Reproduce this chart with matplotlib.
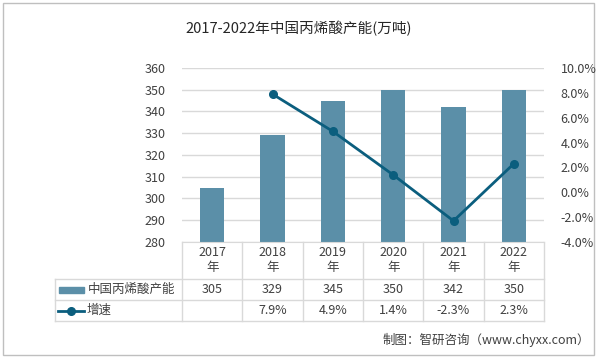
import matplotlib
matplotlib.use("Agg")
import matplotlib.pyplot as plt
import matplotlib.transforms as mtransforms
from matplotlib.patches import Rectangle
from matplotlib.lines import Line2D
import numpy as np

plt.rcParams['font.family'] = ['Noto Sans CJK SC', 'DejaVu Sans']

years = ["2017", "2018", "2019", "2020", "2021", "2022"]
capacity = [305, 329, 345, 350, 342, 350]
growth = [np.nan, 7.9, 4.9, 1.4, -2.3, 2.3]
growth_labels = ["", "7.9%", "4.9%", "1.4%", "-2.3%", "2.3%"]
series_names = ["中国丙烯酸产能", "增速"]
title = "2017-2022年中国丙烯酸产能(万吨)"
source = "制图：智研咨询（www.chyxx.com）"

bar_color = "#5B8FA8"
line_color = "#0B5E7E"
grid_color = "#D9D9D9"
text_color = "#404040"

W, H = 597, 359
fig = plt.figure(figsize=(W / 100, H / 100), dpi=100)

# overlay axes in pixel coordinates
ov = fig.add_axes([0, 0, 1, 1])
ov.set_xlim(0, W)
ov.set_ylim(H, 0)
ov.axis("off")

L, R, T, B = 182, 544, 68, 242
ax = fig.add_axes([L / W, (H - B) / H, (R - L) / W, (B - T) / H])
ax.set_zorder(2)
ax.patch.set_alpha(0)

x = np.arange(len(years))
ax.bar(x, capacity, width=0.4, color=bar_color, zorder=2)
ax.set_xlim(-0.5, len(years) - 0.5)
ax.set_ylim(280, 360)
ax.set_yticks(np.arange(280, 361, 10))
ax.yaxis.grid(True, color=grid_color, linewidth=1)
ax.set_axisbelow(True)
for s in ["top", "right", "left"]:
    ax.spines[s].set_visible(False)
ax.spines["bottom"].set_color(grid_color)
ax.set_xticks([])
ax.tick_params(axis="y", length=0, labelsize=9, labelcolor=text_color, pad=12)

ax2 = ax.twinx()
ax2.plot(x, growth, color=line_color, linewidth=2, marker="o", markersize=5.5, zorder=3)
ax2.set_ylim(-4, 10)
ax2.set_yticks(np.arange(-4, 10.1, 2))
ax2.set_yticklabels([f"{v:.1f}%" for v in np.arange(-4, 10.1, 2)])
for s in ["top", "right", "left", "bottom"]:
    ax2.spines[s].set_visible(False)
ax2.tick_params(axis="y", length=0, labelsize=9, labelcolor=text_color, pad=12)

# border
ov.add_patch(Rectangle((3, 3), 591, 352, fill=False, edgecolor="#BFBFBF", linewidth=1))

# title
ov.text(W / 2, 29, title, ha="center", va="center", fontsize=10.5, color="#262626")

# data table
blend = mtransforms.blended_transform_factory(ax.transData, ov.transData)
row_h_top, row1_bot, row2_bot = B, 279, 300
row3_bot = 321
tbl_left = 55
lc = grid_color
# horizontal lines
ov.add_line(Line2D([tbl_left, R], [row1_bot, row1_bot], color=lc, lw=1))
ov.add_line(Line2D([tbl_left, R], [row2_bot, row2_bot], color=lc, lw=1))
ov.add_line(Line2D([tbl_left, R], [row3_bot, row3_bot], color=lc, lw=1))
# vertical lines
ov.add_line(Line2D([tbl_left, tbl_left], [row1_bot, row3_bot], color=lc, lw=1))
for i in range(len(years) + 1):
    xb = i - 0.5
    ax_line = Line2D([xb, xb], [B, row3_bot], color=lc, lw=1, transform=blend)
    ov.add_line(ax_line)

for i, yr in enumerate(years):
    ov.text(i, 252, yr, transform=blend, ha="center", va="center", fontsize=9, color=text_color)
    ov.text(i, 268, "年", transform=blend, ha="center", va="center", fontsize=9, color=text_color)
    ov.text(i, 289.5, str(capacity[i]), transform=blend, ha="center", va="center", fontsize=9, color=text_color)
    ov.text(i, 310.5, growth_labels[i], transform=blend, ha="center", va="center", fontsize=9, color=text_color)

# legend keys
ov.add_patch(Rectangle((59, 286.5), 25, 6, color=bar_color))
ov.text(88, 289.5, series_names[0], ha="left", va="center", fontsize=9, color=text_color)
ov.add_line(Line2D([58, 84], [310.5, 310.5], color=line_color, lw=2))
ov.add_line(Line2D([71], [310.5], color=line_color, marker="o", markersize=5.5))
ov.text(87, 310.5, series_names[1], ha="left", va="center", fontsize=9, color=text_color)

# source
ov.text(590, 340, source, ha="right", va="center", fontsize=9, color=text_color)

fig.savefig("out.png", dpi=100)
